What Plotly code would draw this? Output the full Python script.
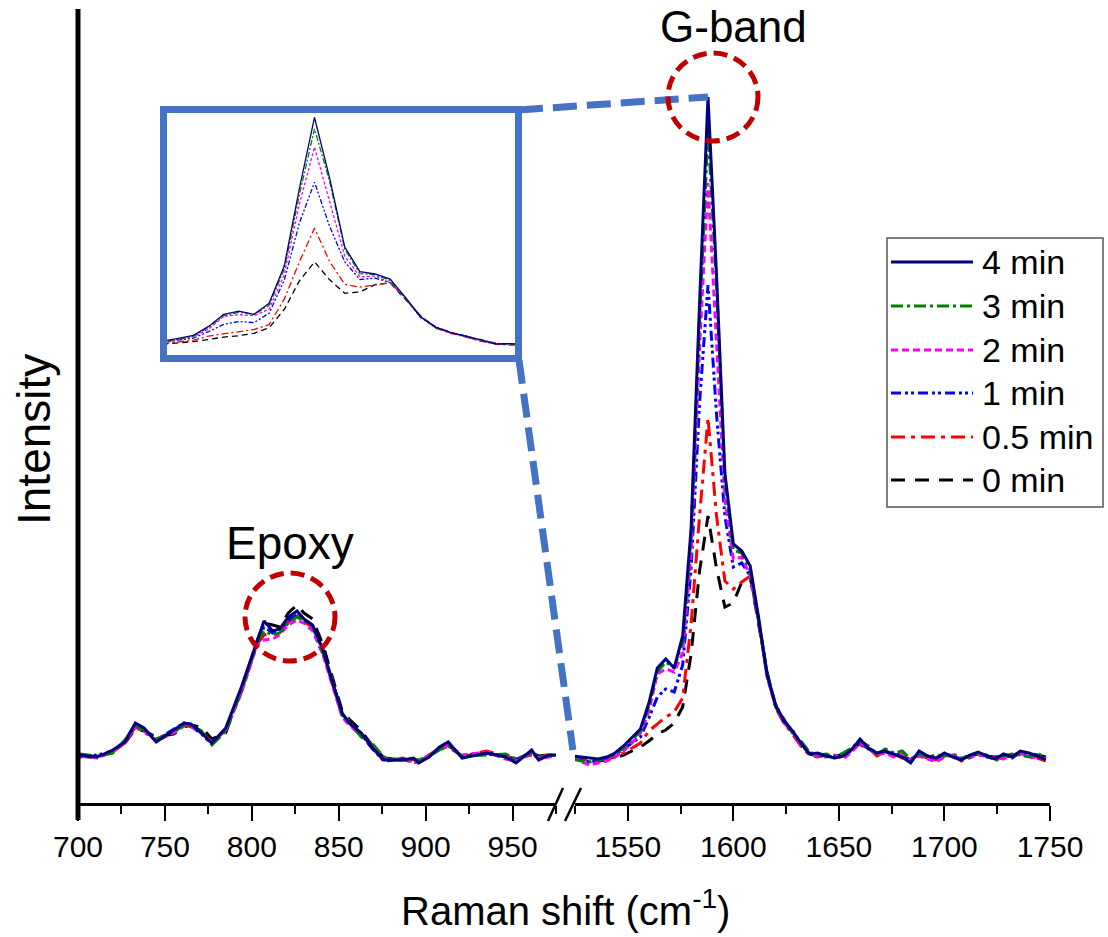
import plotly.graph_objects as go

W, H = 1108, 937
FONT = "Liberation Sans, Arial, sans-serif"

# ---- series definitions -------------------------------------------------
SERIES = ["4 min", "3 min", "2 min", "1 min", "0.5 min", "0 min"]
COLORS = ["#000080", "#008000", "#FF00FF", "#0000FF", "#FF0000", "#000000"]
DASH_MAIN = ["solid", "12px,4px,3px,4px", "7px,4px", "10px,4px,3px,3px,3px,4px",
             "14px,6px,4px,6px", "14px,10px"]
DASH_INSET = ["solid", "6px,2px,2px,2px", "3px,2px", "5px,2px,2px,2px,2px,2px",
              "7px,3px,2px,3px", "6px,4px"]

# ---- low-wavenumber window (epoxy band), cm-1 ---------------------------
LEFT_X = [701, 711, 720, 727, 733, 738, 745, 755, 761, 765, 771, 777, 785, 794,
          803, 807, 812, 816, 821, 826, 830, 835, 841, 846, 852, 856, 863, 869,
          876, 887, 893, 896, 902, 908, 913, 921, 935, 946, 952, 961, 965, 971, 975]

LEFT_4MIN = [48, 46, 53, 61, 80, 75, 61, 73, 80, 79, 70, 60, 75, 116, 163, 182, 172,
             174, 186, 192, 184, 178, 153, 123, 90, 80, 70, 56, 43, 43, 45, 40, 46,
             56, 61, 45, 50, 46, 40, 53, 43, 48, 48]
LEFT_3MIN = [49, 47, 50, 63, 77, 73, 64, 71, 78, 78, 72, 58, 72, 112, 160, 172, 168,
             170, 180, 186, 182, 176, 150, 125, 88, 82, 66, 60, 46, 42, 44, 43, 47,
             53, 57, 47, 48, 49, 44, 50, 46, 47, 49]
LEFT_2MIN = [47, 45, 51, 60, 76, 72, 62, 70, 77, 77, 70, 61, 73, 110, 158, 163, 164,
             168, 178, 183, 180, 172, 148, 120, 86, 78, 68, 57, 44, 44, 40, 41, 48,
             54, 58, 48, 51, 44, 42, 49, 45, 46, 47]
LEFT_1MIN = [46, 48, 52, 62, 79, 74, 63, 74, 80, 77, 69, 59, 74, 114, 160, 176, 170,
             172, 183, 188, 183, 177, 152, 124, 89, 80, 69, 55, 42, 44, 43, 42, 46,
             55, 59, 46, 50, 47, 43, 51, 44, 47, 48]
LEFT_05MIN = [48, 46, 51, 60, 76, 71, 63, 72, 79, 76, 72, 60, 73, 111, 159, 168, 171,
              172, 181, 187, 181, 176, 150, 121, 87, 79, 67, 56, 42, 45, 41, 40, 48,
              55, 56, 47, 52, 47, 44, 48, 46, 48, 47]
LEFT_0MIN = [47, 45, 52, 60, 74, 72, 66, 69, 76, 78, 76, 64, 70, 113, 162, 180, 178,
             176, 190, 198, 190, 184, 158, 128, 92, 84, 72, 58, 45, 43, 44, 42, 47,
             54, 58, 47, 49, 48, 43, 50, 47, 48, 48]

# ---- high-wavenumber window (G band), cm-1 ------------------------------
RIGHT_X = [1524, 1528, 1532, 1536, 1540, 1544, 1548, 1552, 1556, 1560, 1564, 1568,
           1572, 1576, 1580, 1584, 1588, 1592, 1596, 1600, 1604, 1608, 1612, 1616,
           1620, 1624, 1628, 1632, 1636, 1640, 1644, 1648, 1652, 1656, 1660, 1664,
           1668, 1672, 1676, 1680, 1684, 1688, 1692, 1696, 1700, 1704, 1708, 1712,
           1716, 1720, 1724, 1728, 1732, 1736, 1740, 1744, 1748]

RIGHT_4MIN = [47, 46, 45, 44, 46, 50, 57, 65, 74, 100, 135, 144, 135, 167, 275, 500,
              706, 530, 330, 259, 252, 237, 185, 128, 98, 82, 72, 60, 49, 50, 47, 45,
              47, 53, 64, 55, 50, 52, 49, 46, 40, 52, 47, 45, 50, 46, 43, 48, 51, 47,
              44, 49, 46, 52, 50, 47, 43]
RIGHT_3MIN = [44, 42, 41, 43, 45, 49, 55, 63, 72, 97, 131, 141, 135, 161, 266, 482,
              673, 520, 324, 253, 250, 233, 183, 130, 96, 84, 70, 62, 51, 48, 49, 46,
              50, 55, 62, 57, 49, 54, 50, 52, 44, 49, 46, 48, 47, 49, 45, 46, 50, 48,
              42, 47, 49, 48, 46, 50, 45]
RIGHT_2MIN = [46, 41, 38, 40, 42, 46, 52, 60, 70, 92, 129, 134, 131, 150, 250, 455,
              620, 462, 304, 244, 246, 227, 182, 126, 97, 80, 71, 58, 50, 47, 46, 48,
              44, 51, 60, 56, 48, 50, 46, 49, 42, 47, 44, 41, 46, 48, 44, 45, 49, 46,
              45, 44, 48, 50, 45, 46, 44]
RIGHT_1MIN = [45, 43, 41, 42, 44, 48, 54, 60, 66, 85, 106, 114, 111, 138, 234, 400,
              518, 390, 287, 236, 240, 227, 183, 127, 99, 81, 73, 59, 50, 49, 47, 46,
              48, 52, 61, 54, 50, 51, 48, 47, 43, 50, 46, 44, 49, 47, 44, 47, 50, 46,
              45, 48, 45, 51, 48, 47, 44]
RIGHT_05MIN = [43, 44, 42, 43, 44, 46, 50, 55, 60, 72, 79, 86, 91, 105, 179, 287,
               385, 288, 222, 214, 221, 227, 181, 129, 95, 80, 69, 57, 48, 46, 48, 45,
               49, 54, 58, 55, 47, 51, 49, 45, 44, 48, 45, 43, 47, 48, 42, 46, 48, 47,
               44, 46, 47, 49, 47, 45, 42]
RIGHT_0MIN = [46, 45, 44, 42, 43, 45, 48, 52, 56, 62, 69, 73, 80, 96, 149, 232,
              287, 235, 196, 200, 221, 226, 180, 131, 97, 83, 70, 58, 49, 47, 48, 47,
              48, 52, 60, 54, 49, 52, 50, 47, 43, 49, 47, 45, 48, 47, 45, 47, 49, 47,
              46, 47, 46, 50, 49, 48, 46]

LEFT_DATA = [LEFT_4MIN, LEFT_3MIN, LEFT_2MIN, LEFT_1MIN, LEFT_05MIN, LEFT_0MIN]
RIGHT_DATA = [RIGHT_4MIN, RIGHT_3MIN, RIGHT_2MIN, RIGHT_1MIN, RIGHT_05MIN, RIGHT_0MIN]

LEFT_TICKS = [700, 750, 800, 850, 900, 950]
RIGHT_TICKS = [1550, 1600, 1650, 1700, 1750]

# ---- geometry helpers (pixel -> paper) ----------------------------------
def px(x):
    return x / W


def py(y):
    return 1 - y / H


LEFT_RANGE = [700, 975]
RIGHT_RANGE = [1525, 1750]
Y_RANGE = [0, 794]
LEFT_DOM = [px(78), px(556)]
RIGHT_DOM = [px(575), px(1050)]
Y_DOM = [py(803), py(9)]
INSET_DOM_X = [px(167), px(515)]
INSET_DOM_Y = [py(355), py(113)]
INSET_RANGE_X = [1549, 1641]
INSET_RANGE_Y = [17, 719]


def data_to_paper(v, rng, dom):
    return dom[0] + (v - rng[0]) / (rng[1] - rng[0]) * (dom[1] - dom[0])


fig = go.Figure()

# spectra: earliest time drawn first so the 4 min curve sits on top
for i in reversed(range(len(SERIES))):
    fig.add_trace(go.Scatter(x=LEFT_X, y=LEFT_DATA[i], mode="lines", xaxis="x", yaxis="y",
                             line=dict(color=COLORS[i], width=3, dash=DASH_MAIN[i]),
                             name=SERIES[i], showlegend=False, hoverinfo="skip"))
    fig.add_trace(go.Scatter(x=RIGHT_X, y=RIGHT_DATA[i], mode="lines", xaxis="x2", yaxis="y",
                             line=dict(color=COLORS[i], width=3, dash=DASH_MAIN[i]),
                             name=SERIES[i], showlegend=False, hoverinfo="skip"))
    fig.add_trace(go.Scatter(x=RIGHT_X, y=RIGHT_DATA[i], mode="lines", xaxis="x3", yaxis="y3",
                             line=dict(color=COLORS[i], width=1.3, dash=DASH_INSET[i]),
                             name=SERIES[i], showlegend=False, hoverinfo="skip"))

xax_common = dict(showline=True, linecolor="black", linewidth=2.5, ticks="outside",
                  ticklen=15, tickwidth=2, tickcolor="black", showgrid=False,
                  zeroline=False, anchor="y", automargin=False,
                  tickfont=dict(family=FONT, size=30, color="black"),
                  minor=dict(ticks="outside", ticklen=8, tickwidth=2, tickcolor="black",
                             dtick=25, showgrid=False))
hidden_common = dict(ticks="", showticklabels=False, showgrid=False, zeroline=False,
                     automargin=False)

fig.update_layout(
    template="none",
    width=W, height=H, autosize=False,
    margin=dict(l=0, r=0, t=0, b=0, pad=0),
    paper_bgcolor="white", plot_bgcolor="rgba(0,0,0,0)",
    font=dict(family=FONT, color="black"),
    showlegend=False,
    xaxis=dict(domain=LEFT_DOM, range=LEFT_RANGE, tickvals=LEFT_TICKS,
               ticktext=[str(t) for t in LEFT_TICKS], **xax_common),
    xaxis2=dict(domain=RIGHT_DOM, range=RIGHT_RANGE, tickvals=RIGHT_TICKS,
                ticktext=[str(t) for t in RIGHT_TICKS], **xax_common),
    yaxis=dict(domain=Y_DOM, range=Y_RANGE, showline=False, **hidden_common),
    xaxis3=dict(domain=INSET_DOM_X, range=INSET_RANGE_X, anchor="y3", showline=True,
                mirror=True, linecolor="#4472C4", linewidth=7, **hidden_common),
    yaxis3=dict(domain=INSET_DOM_Y, range=INSET_RANGE_Y, anchor="x3", showline=True,
                mirror=True, linecolor="#4472C4", linewidth=7, **hidden_common),
)

shapes = []
# vertical intensity axis (thick, reaching just below the x axis)
shapes.append(dict(type="line", xref="paper", yref="paper", x0=px(78), x1=px(78),
                   y0=py(9), y1=py(820), line=dict(color="black", width=5)))
# axis break marks
for xa, xb in [(548, 563), (565, 581)]:
    shapes.append(dict(type="line", xref="paper", yref="paper", x0=px(xa), x1=px(xb),
                       y0=py(821), y1=py(788), line=dict(color="black", width=2.5)))

# G-band peak location from the 4 min spectrum
imax = max(range(len(RIGHT_4MIN)), key=lambda k: RIGHT_4MIN[k])
gx = data_to_paper(RIGHT_X[imax], RIGHT_RANGE, RIGHT_DOM)
gy = data_to_paper(RIGHT_4MIN[imax], Y_RANGE, Y_DOM)
# epoxy band maximum from the 4 min spectrum
jmax = max(range(len(LEFT_4MIN)), key=lambda k: LEFT_4MIN[k])
ex = data_to_paper(LEFT_X[jmax], LEFT_RANGE, LEFT_DOM)
ey = data_to_paper(LEFT_4MIN[jmax], Y_RANGE, Y_DOM)

# zoom connectors from the inset frame
blue = "#4472C4"
shapes.append(dict(type="line", xref="paper", yref="paper", x0=px(519), y0=py(110),
                   x1=gx, y1=gy, line=dict(color=blue, width=7, dash="24px,10px")))
base_x = data_to_paper(RIGHT_X[0], RIGHT_RANGE, RIGHT_DOM)
base_y = data_to_paper(RIGHT_4MIN[0], Y_RANGE, Y_DOM)
shapes.append(dict(type="line", xref="paper", yref="paper", x0=px(519), y0=py(360),
                   x1=base_x, y1=base_y + 6 / H,
                   line=dict(color=blue, width=7, dash="24px,10px")))

# dashed red circles around the two bands (pixel offsets of the centre)
red = "#C00000"
for cx, cy, ox, oy in [(gx, gy, 5, 0), (ex, ey, -7, -6)]:
    shapes.append(dict(type="circle", xref="paper", yref="paper",
                       x0=cx + (ox - 45) / W, x1=cx + (ox + 45) / W,
                       y0=cy + (oy - 44) / H, y1=cy + (oy + 44) / H,
                       line=dict(color=red, width=5, dash="14px,7px")))

# legend frame and samples
LEG_Y = [262, 306, 350, 393, 437, 480]
shapes.append(dict(type="rect", xref="paper", yref="paper", x0=px(887), x1=px(1103),
                   y0=py(507), y1=py(238), line=dict(color="#555555", width=1.5)))
annotations = []
for i, name in enumerate(SERIES):
    shapes.append(dict(type="line", xref="paper", yref="paper", x0=px(891), x1=px(973),
                       y0=py(LEG_Y[i]), y1=py(LEG_Y[i]),
                       line=dict(color=COLORS[i], width=3, dash=DASH_MAIN[i])))
    annotations.append(dict(text=name, xref="paper", yref="paper", x=px(980),
                            y=py(LEG_Y[i]), xanchor="left", yanchor="middle",
                            showarrow=False, font=dict(family=FONT, size=34, color="black")))

annotations += [
    dict(text="G-band", xref="paper", yref="paper", x=px(733), y=py(0),
         xanchor="center", yanchor="top", showarrow=False,
         font=dict(family=FONT, size=44, color="black")),
    dict(text="Epoxy", xref="paper", yref="paper", x=px(290), y=py(543),
         xanchor="center", yanchor="middle", showarrow=False,
         font=dict(family=FONT, size=46, color="black")),
    dict(text="Raman shift (cm<sup>-1</sup>)", xref="paper", yref="paper", x=px(565),
         y=py(908), xanchor="center", yanchor="middle", showarrow=False,
         font=dict(family=FONT, size=40, color="black")),
    dict(text="Intensity", xref="paper", yref="paper", x=px(34), y=py(440),
         xanchor="center", yanchor="middle", showarrow=False, textangle=-90,
         font=dict(family=FONT, size=46, color="black")),
]

fig.update_layout(shapes=shapes, annotations=annotations)
fig.write_html("out.html")
